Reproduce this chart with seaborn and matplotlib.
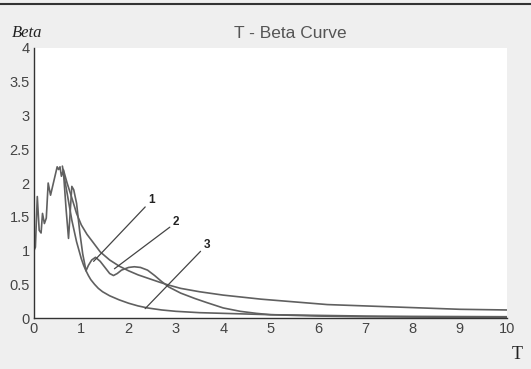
import matplotlib
matplotlib.use("Agg")
import matplotlib.pyplot as plt
import seaborn as sns
import pandas as pd
from matplotlib.lines import Line2D

# Curve 1: jagged response spectrum
t1 = [0.0, 0.03, 0.07, 0.11, 0.15, 0.18, 0.22, 0.26, 0.30, 0.35, 0.41, 0.49, 0.52, 0.55,
      0.58, 0.62, 0.68, 0.73, 0.80, 0.84, 0.90, 0.97, 1.03, 1.10, 1.15, 1.22, 1.30, 1.40,
      1.50, 1.60, 1.68, 1.76, 1.85, 2.00, 2.12, 2.25, 2.40, 2.55, 2.70, 2.85, 3.10, 3.40,
      3.65, 4.00, 4.36, 4.70, 5.0, 6.0, 7.0, 8.0, 9.0, 10.0]
b1 = [1.0, 1.05, 1.80, 1.30, 1.26, 1.55, 1.40, 1.48, 2.00, 1.82, 2.00, 2.24, 2.20, 2.24,
      2.10, 2.19, 1.60, 1.18, 1.95, 1.90, 1.70, 1.26, 0.95, 0.70, 0.78, 0.86, 0.90, 0.84,
      0.75, 0.66, 0.63, 0.66, 0.71, 0.75, 0.76, 0.75, 0.71, 0.63, 0.54, 0.46, 0.37, 0.29,
      0.23, 0.15, 0.10, 0.07, 0.05, 0.03, 0.02, 0.015, 0.012, 0.01]

# Curve 2: upper smooth curve
t2 = [0.62, 0.70, 0.80, 0.90, 1.00, 1.12, 1.25, 1.40, 1.60, 1.80, 2.00, 2.20, 2.45,
      2.66, 2.84, 3.10, 3.50, 4.00, 4.40, 4.80, 5.50, 6.20, 7.40, 8.20, 9.00, 10.0]
b2 = [2.20, 2.00, 1.78, 1.55, 1.38, 1.24, 1.12, 0.98, 0.86, 0.77, 0.70, 0.64, 0.58,
      0.53, 0.49, 0.44, 0.39, 0.34, 0.31, 0.28, 0.24, 0.20, 0.17, 0.15, 0.13, 0.12]

# Curve 3: lower smooth curve
t3 = [0.60, 0.70, 0.80, 0.90, 1.00, 1.05, 1.10, 1.15, 1.20, 1.28, 1.36, 1.45, 1.60,
      1.80, 2.00, 2.20, 2.40, 2.70, 3.00, 3.50, 4.00, 5.00, 6.00, 7.00, 8.00, 10.0]
b3 = [2.25, 1.85, 1.45, 1.13, 0.88, 0.78, 0.70, 0.63, 0.57, 0.50, 0.44, 0.39, 0.33,
      0.27, 0.22, 0.18, 0.15, 0.12, 0.10, 0.08, 0.07, 0.05, 0.04, 0.03, 0.025, 0.02]

labels = ["1", "2", "3"]
label_xy = [(2.42, 1.66), (2.94, 1.33), (3.59, 1.00)]
point_xy = [(1.26, 0.84), (1.70, 0.73), (2.35, 0.14)]

xticks = list(range(0, 11))
yticks = [0, 0.5, 1, 1.5, 2, 2.5, 3, 3.5, 4]
ytick_labels = ["0", "0.5", "1", "1.5", "2", "2.5", "3", "3.5", "4"]

sns.set_theme(style="white")
plt.rcParams["font.family"] = ["Liberation Sans", "DejaVu Sans"]

fig = plt.figure(figsize=(5.31, 3.69), dpi=100, facecolor="#efefef")
ax = fig.add_axes([0.064, 0.138, 0.891, 0.732])
ax.set_facecolor("white")

line_color = "#606060"
for t, b in [(t1, b1), (t2, b2), (t3, b3)]:
    df = pd.DataFrame({"T": t, "Beta": b})
    sns.lineplot(data=df, x="T", y="Beta", ax=ax, color=line_color, lw=1.2,
                 sort=False, estimator=None)

for lab, lxy, pxy in zip(labels, label_xy, point_xy):
    ax.annotate(lab, xy=pxy, xytext=lxy, fontsize=8.5, fontweight="bold",
                color="#222222", ha="left", va="bottom",
                arrowprops=dict(arrowstyle="-", color="#444444", lw=0.9,
                                shrinkA=0, shrinkB=0))

ax.set_xlim(0, 10)
ax.set_ylim(0, 4)
ax.set_xticks(xticks)
ax.set_yticks(yticks)
ax.set_yticklabels(ytick_labels)
ax.set_xlabel("")
ax.set_ylabel("")
ax.tick_params(direction="in", length=4, width=0.9, colors="#333333",
               labelsize=10.5, labelcolor="#444444", pad=3)
for s in ["top", "right"]:
    ax.spines[s].set_visible(False)
for s in ["left", "bottom"]:
    ax.spines[s].set_color("#333333")
    ax.spines[s].set_linewidth(1.0)

fig.text(0.547, 0.91, "T - Beta Curve", ha="center", va="center",
         fontsize=12.5, color="#555555")
fig.text(0.022, 0.91, "Beta", ha="left", va="center", fontsize=12,
         family="Liberation Serif", style="italic", color="#222222")
fig.text(0.974, 0.038, "T", ha="center", va="center", fontsize=13,
         family="Liberation Serif", color="#222222")

fig.add_artist(Line2D([0, 1], [0.99, 0.99], transform=fig.transFigure,
                      color="#333333", lw=1.5))

fig.savefig("out.png", dpi=100, facecolor=fig.get_facecolor())
